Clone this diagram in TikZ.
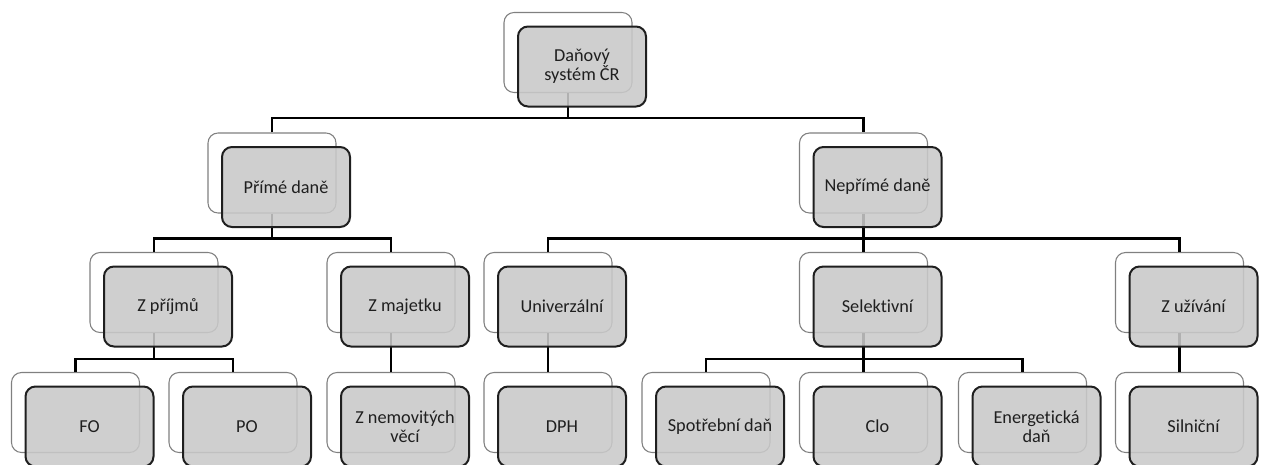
\documentclass[tikz,border=0pt]{standalone}
\usepackage{fontspec}
\setmainfont[Ligatures={NoCommon}]{Carlito}
\usetikzlibrary{calc}
\tikzset{
  backbox/.style={draw=black!50, line width=0.8pt, fill=white, rounded corners=7.5pt,
    minimum width=96pt, minimum height=60pt, inner sep=0pt},
  frontbox/.style={draw=black!88, line width=1.5pt, fill=black!21, fill opacity=0.88,
    text opacity=1, rounded corners=7.5pt, minimum width=96pt, minimum height=60pt,
    inner sep=0pt, align=center, text=black!88,
    font=\fontsize{13.7pt}{14pt}\selectfont},
  conn/.style={draw=black, line width=2.2pt}
}
\begin{document}
\begin{tikzpicture}[x=0.75pt,y=-0.75pt]
\useasboundingbox (0,0) rectangle (1263,464);
% back boxes
\node[backbox] (top) at (568,52.5) {};
\node[backbox] (prime) at (272,173) {};
\node[backbox] (neprime) at (863.5,173) {};
\node[backbox] (prijmu) at (154,292.5) {};
\node[backbox] (majetku) at (391,292.5) {};
\node[backbox] (univ) at (548,292.5) {};
\node[backbox] (selek) at (863.5,292.5) {};
\node[backbox] (uziv) at (1179.5,292.5) {};
\node[backbox] (fo) at (75.5,412.5) {};
\node[backbox] (po) at (233,412.5) {};
\node[backbox] (nemov) at (391,412.5) {};
\node[backbox] (dph) at (548,412.5) {};
\node[backbox] (spotr) at (706,412.5) {};
\node[backbox] (clo) at (863.5,412.5) {};
\node[backbox] (energ) at (1022.5,412.5) {};
\node[backbox] (siln) at (1179.5,412.5) {};
% bus coordinates
\coordinate (b1) at (568,118);
\coordinate (b2) at (272,238.5);
\coordinate (b3) at (863.5,238.5);
\coordinate (b4) at (154,359);
\coordinate (b5) at (863.5,359);
% connectors
\draw[conn] (prime.north) |- (b1) -| (neprime.north);
\draw[conn] (top.south) -- (b1);
\draw[conn] (prijmu.north) |- (b2) -| (majetku.north);
\draw[conn] (prime.south) -- (b2);
\draw[conn] (univ.north) |- (b3) -| (uziv.north);
\draw[conn] (neprime.south) -- (selek.north);
\draw[conn] (fo.north) |- (b4) -| (po.north);
\draw[conn] (prijmu.south) -- (b4);
\draw[conn] (majetku.south) -- (nemov.north);
\draw[conn] (univ.south) -- (dph.north);
\draw[conn] (spotr.north) |- (b5) -| (energ.north);
\draw[conn] (selek.south) -- (clo.north);
\draw[conn] (uziv.south) -- (siln.north);
% front boxes
\node[frontbox] (top-f) at ($(top.center)+(14,14)$) {Daňový\\systém ČR};
\node[frontbox] (prime-f) at ($(prime.center)+(14,14)$) {Přímé daně};
\node[frontbox] (neprime-f) at ($(neprime.center)+(14,14)$) {Nepřímé daně};
\node[frontbox] (prijmu-f) at ($(prijmu.center)+(14,14)$) {Z příjmů};
\node[frontbox] (majetku-f) at ($(majetku.center)+(14,14)$) {Z majetku};
\node[frontbox] (univ-f) at ($(univ.center)+(14,14)$) {Univerzální};
\node[frontbox] (selek-f) at ($(selek.center)+(14,14)$) {Selektivní};
\node[frontbox] (uziv-f) at ($(uziv.center)+(14,14)$) {Z užívání};
\node[frontbox] (fo-f) at ($(fo.center)+(14,14)$) {FO};
\node[frontbox] (po-f) at ($(po.center)+(14,14)$) {PO};
\node[frontbox] (nemov-f) at ($(nemov.center)+(14,14)$) {Z nemovitých\\věcí};
\node[frontbox] (dph-f) at ($(dph.center)+(14,14)$) {DPH};
\node[frontbox] (spotr-f) at ($(spotr.center)+(14,14)$) {Spotřební daň};
\node[frontbox] (clo-f) at ($(clo.center)+(14,14)$) {Clo};
\node[frontbox] (energ-f) at ($(energ.center)+(14,14)$) {Energetická\\daň};
\node[frontbox] (siln-f) at ($(siln.center)+(14,14)$) {Silniční};
\end{tikzpicture}
\end{document}
